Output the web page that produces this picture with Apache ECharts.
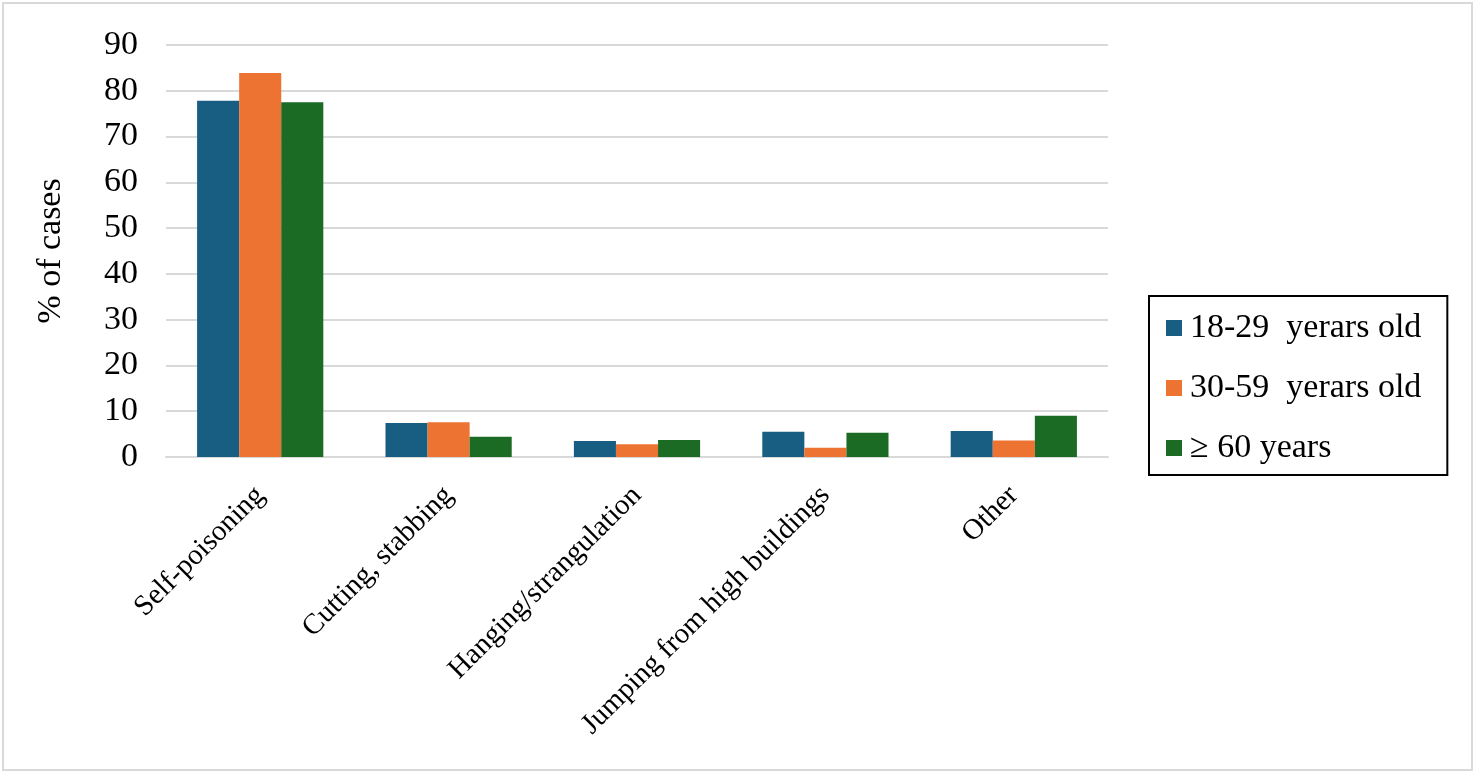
<!DOCTYPE html>
<html><head><meta charset="utf-8">
<script src="https://cdn.jsdelivr.net/npm/echarts@6/dist/echarts.min.js"></script>
<style>html,body{margin:0;padding:0;background:#fff}#c{width:1475px;height:773px}</style>
</head><body><div id="c"></div>
<script>
const categories = ["Self-poisoning", "Cutting, stabbing", "Hanging/strangulation", "Jumping from high buildings", "Other"];
const seriesNames = ["18-29  yerars old", "30-59  yerars old", "\u2265 60 years"];
const age18to29 = [77.8, 7.4, 3.5, 5.5, 5.7];
const age30to59 = [83.9, 7.6, 2.8, 2.0, 3.6];
const age60plus = [77.5, 4.4, 3.7, 5.3, 9.0];
const colors = ["#175E82", "#ED7332", "#1B6B24"];
const font = "'Liberation Serif', 'Times New Roman', serif";

const chart = echarts.init(document.getElementById('c'));
chart.setOption({
  animation: false,
  textStyle: {fontFamily: font},
  graphic: [{type: 'rect', shape: {x: 3, y: 3, width: 1469, height: 767}, style: {fill: 'none', stroke: '#d9d9d9', lineWidth: 2}}],
  grid: {left: 166, right: 367, top: 45, bottom: 316, containLabel: false},
  legend: {
    orient: 'vertical', left: 1149, top: 296,
    padding: [15, 26, 10, 17], itemGap: 26,
    itemWidth: 16, itemHeight: 16, icon: 'rect',
    borderColor: '#000', borderWidth: 2,
    textStyle: {fontFamily: font, fontSize: 34, color: '#000', padding: [0, 0, 0, 3]},
    data: seriesNames
  },
  xAxis: {
    type: 'category', data: categories,
    axisLine: {lineStyle: {color: '#d9d9d9', width: 2}},
    axisTick: {show: false},
    axisLabel: {rotate: 45, fontSize: 29, color: '#000', fontFamily: font, margin: 34, interval: 0}
  },
  yAxis: {
    type: 'value', min: 0, max: 90, interval: 10,
    name: '% of cases', nameLocation: 'middle', nameGap: 98,
    nameTextStyle: {fontSize: 34, color: '#000', fontFamily: font},
    axisLine: {show: false}, axisTick: {show: false},
    axisLabel: {fontSize: 34, color: '#000', fontFamily: font, margin: 28},
    splitLine: {lineStyle: {color: '#d9d9d9', width: 2}}
  },
  series: [
    {name: seriesNames[0], type: 'bar', data: age18to29, itemStyle: {color: colors[0]}, barGap: '0%', barCategoryGap: '33%'},
    {name: seriesNames[1], type: 'bar', data: age30to59, itemStyle: {color: colors[1]}, barGap: '0%', barCategoryGap: '33%'},
    {name: seriesNames[2], type: 'bar', data: age60plus, itemStyle: {color: colors[2]}, barGap: '0%', barCategoryGap: '33%'}
  ]
});
</script></body></html>
